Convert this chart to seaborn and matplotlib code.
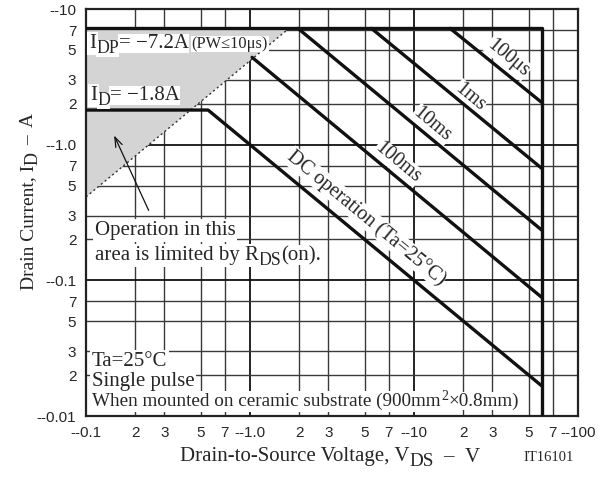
import numpy as np
import pandas as pd
import matplotlib
matplotlib.use("Agg")
import matplotlib.pyplot as plt
from matplotlib.transforms import IdentityTransform
from matplotlib.ticker import FixedLocator, FixedFormatter
import seaborn as sns

# Safe operating area, magnitudes (V, A)
x_major = [0.1, 1.0, 10, 100]
x_major_labels = ["--0.1", "--1.0", "--10", "--100"]
x_minor = [0.2, 0.3, 0.5, 0.7, 2, 3, 5, 7, 20, 30, 50, 70]
y_major = [0.01, 0.1, 1.0, 10]
y_major_labels = ["--0.01", "--0.1", "--1.0", "--10"]
y_minor = [0.02, 0.03, 0.05, 0.07, 0.2, 0.3, 0.5, 0.7, 2, 3, 5, 7]
minor_labels = ["2", "3", "5", "7"] * 3

# boundary curves
pulse_v = [0.1, 60, 60]
pulse_i = [7.2, 7.2, 0.01]
dc_v = [0.1, 0.555, 60]
dc_i = [1.8, 1.8, 0.0167]
ms100_v = [1.03, 60]
ms100_i = [4.4, 0.075]
ms10_v = [1.96, 60]
ms10_i = [7.2, 0.235]
ms1_v = [5.5, 60]
ms1_i = [7.2, 0.67]
us100_v = [16.6, 60]
us100_i = [7.2, 2.05]
rds_v = [0.1, 1.73]
rds_i = [0.412, 7.2]

curves = {
    "pulse": (pulse_v, pulse_i),
    "DC": (dc_v, dc_i),
    "100ms": (ms100_v, ms100_i),
    "10ms": (ms10_v, ms10_i),
    "1ms": (ms1_v, ms1_i),
    "100us": (us100_v, us100_i),
}
df = pd.concat(
    [pd.DataFrame({"vds": v, "id": i, "curve": name}) for name, (v, i) in curves.items()],
    ignore_index=True,
)

sns.set_style("white")
plt.rcParams["font.family"] = ["Liberation Serif", "DejaVu Serif"]

W, H = 605, 479
fig = plt.figure(figsize=(W / 100, H / 100), dpi=100)
ax = fig.add_axes([86 / W, 1 - 416 / H, 492 / W, 407 / H])
ax.set_xscale("log")
ax.set_yscale("log")
ax.set_xlim(0.1, 100)
ax.set_ylim(0.01, 10)

# shaded region limited by R_DS(on)
ax.fill([rds_v[0], rds_v[0], rds_v[1]], [rds_i[0], rds_i[1], rds_i[1]],
        color="#d4d4d4", lw=0, zorder=1)
sns.lineplot(x=rds_v, y=rds_i, ax=ax, color="#333333", lw=1.0,
             linestyle=(0, (1.5, 2)), zorder=2)

for name in curves:
    sub = df[df["curve"] == name]
    sns.lineplot(data=sub, x="vds", y="id", ax=ax, color="#111111", lw=2.4,
                 sort=False, estimator=None, zorder=6)

# grid
ax.xaxis.set_major_locator(FixedLocator(x_major))
ax.xaxis.set_major_formatter(FixedFormatter(x_major_labels))
ax.xaxis.set_minor_locator(FixedLocator(x_minor))
ax.xaxis.set_minor_formatter(FixedFormatter(minor_labels))
ax.yaxis.set_major_locator(FixedLocator(y_major))
ax.yaxis.set_major_formatter(FixedFormatter(y_major_labels))
ax.yaxis.set_minor_locator(FixedLocator(y_minor))
ax.yaxis.set_minor_formatter(FixedFormatter(minor_labels))
ax.grid(which="major", color="#111111", lw=1.3, zorder=0)
ax.grid(which="minor", color="#3a3a3a", lw=1.0, zorder=0)
ax.set_axisbelow(True)
ax.tick_params(which="both", length=0, labelsize=11, pad=7)
for lab in ax.get_xticklabels(which="both") + ax.get_yticklabels(which="both"):
    lab.set_family(["Liberation Sans", "DejaVu Sans"])
for s in ax.spines.values():
    s.set_color("#222222")
    s.set_linewidth(1.6)
ax.set_xlabel("")
ax.set_ylabel("")

renderer = fig.canvas.get_renderer()


def rich(px, py, parts, rotation=0, white=True):
    """Place text pieces (text, size, drop, gap) along one baseline, pixel coords from top-left."""
    pos = 0.0
    for k, (text, size, drop, gap) in enumerate(parts):
        pos += gap
        if rotation == 0:
            x, y = px + pos, H - py - drop
        else:
            x, y = px + drop, H - py + pos
        box = None
        if white:
            box = dict(facecolor="white", edgecolor="none", pad=1.2 if k == 0 else 0.3)
        t = fig.text(x, y, text, fontsize=size, transform=IdentityTransform(),
                     ha="left", va="baseline", rotation=rotation, rotation_mode="anchor",
                     zorder=4 - 0.01 * k, bbox=box)
        ext = t.get_window_extent(renderer)
        pos += ext.width if rotation == 0 else ext.height


fs = 15
sub = 12.8
rich(89, 48, [("I", fs, 0, 0), ("DP", sub, 5, 0), ("= −7.2A", fs, 0, 0),
              ("(PW≤10μs)", 11.8, 0, 3)])
rich(90, 100, [("I", fs, 0, 0), ("D", sub, 5, 0), ("= −1.8A", fs, 0, 0)])
rich(95, 235, [("Operation in this", fs, 0, 0)])
rich(95, 260, [("area is limited by R", fs, 0, 0), ("DS", sub, 5, 0), ("(on).", fs, 0, 0)])
rich(92, 366, [("Ta=25°C", fs, 0, 0)])
rich(92, 386, [("Single pulse", fs, 0, 0)])
rich(92, 406, [("When mounted on ceramic substrate (900mm", 13.8, 0, 0),
               ("2", 10, -6, 0.5), ("×0.8mm)", 13.8, 0, 0.5)])

ax.annotate("", xy=(0.146, 1.22), xytext=(0.245, 0.314),
            arrowprops=dict(arrowstyle="->,head_length=0.7,head_width=0.25",
                            color="#111111", lw=0.9), zorder=5)

angle = -np.degrees(np.arctan(135.7 / 164))
line_labels = [
    ("DC operation (Ta=25°C)", 5.1, 0.29),
    ("100ms", 8.0, 0.735),
    ("10ms", 12.9, 1.40),
    ("1ms", 21.9, 2.25),
    ("100μs", 37.4, 4.36),
]
for text, x, y in line_labels:
    ax.text(x, y, text, fontsize=14.5, rotation=angle, rotation_mode="anchor",
            ha="center", va="center", bbox=dict(facecolor="white", edgecolor="none", pad=0.5),
            zorder=4)

rich(180, 461.5, [("Drain-to-Source Voltage, V", fs, 0, 0), ("DS", 13.8, 5, 0),
                  ("–", fs, 0, 9), ("V", fs, 0, 11)], white=False)
rich(523, 461, [("IT16101", 10.5, 0, 0)], white=False)
rich(33, 290, [("Drain Current, I", 14, 0, 0), ("D", 13, 5, 0),
               ("–", 14, 0, 7), ("A", 14, 0, 8)], rotation=90, white=False)

fig.savefig("out.png", dpi=100)
